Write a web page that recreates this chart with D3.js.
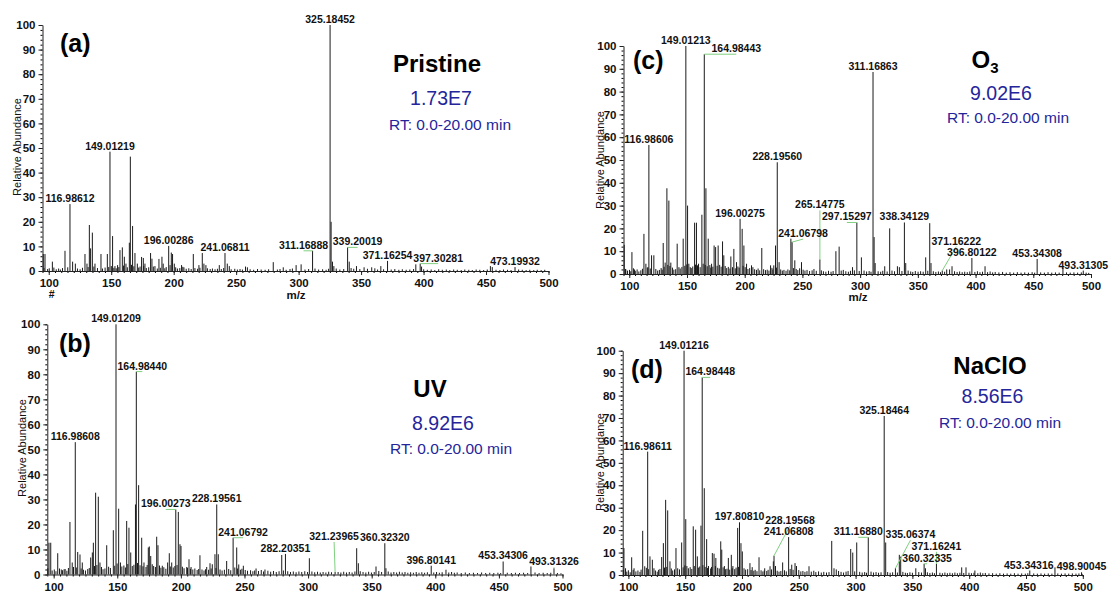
<!DOCTYPE html>
<html>
<head>
<meta charset="utf-8">
<script src="https://cdn.jsdelivr.net/npm/d3@7"></script>
<style>
  body { margin: 0; background: #fff; }
  svg { display: block; font-family: "Liberation Sans", Arial, sans-serif; }
</style>
</head>
<body>
<svg id="chart" width="1111" height="598"></svg>
<script>
// ---- shared axis definitions ----
const mzRange = [95, 500];
const xTicks = [100, 150, 200, 250, 300, 350, 400, 450, 500];
const yTicks = [0, 10, 20, 30, 40, 50, 60, 70, 80, 90, 100];
const rtText = "RT: 0.0-20.00 min";

// ---- (a) Pristine ----
const pristineLabeled = [[116.98612,27.2],[149.01219,48.5],[196.00286,10.2],[241.06811,7.3],[311.16888,8.2],
  [325.18452,100],[339.20019,9.6],[371.16254,4.1],[397.30281,3.0],[473.19932,1.6]];
const pristinePeaks = [[95.6,6.9],[97.0,6.9],[102.9,3.8],[113.0,8.2],[119.1,3.8],[121.3,3.0],[129.0,6.9],[130.6,3.0],
  [132.5,18.7],[133.5,9.2],[134.9,15.6],[137.0,3.0],[141.8,6.9],[146.9,6.9],[151.1,14.2],[153.0,2.0],[155.1,2.4],
  [157.0,8.5],[158.9,9.6],[160.5,5.8],[161.8,3.0],[164.5,11.5],[165.3,46.5],[167.1,18.3],[169.0,7.3],[170.9,3.0],
  [174.3,5.7],[175.7,5.3],[177.0,3.0],[181.5,7.3],[182.6,5.0],[185.0,2.0],[188.2,4.9],[190.6,5.8],[191.6,3.0],
  [198.1,7.5],[199.1,6.9],[200.5,3.0],[206.3,2.4],[208.2,1.5],[215.7,6.9],[220.2,2.4],[222.9,7.3],[224.2,3.0],
  [225.8,2.4],[236.5,2.4],[242.9,3.0],[244.5,2.0],[257.5,1.8],[259.0,1.5],[279.7,3.6],[287.7,1.5],[298.0,2.4],
  [302.0,2.7],[326.0,20.0],[327.1,3.8],[328.2,2.0],[340.5,3.8],[346.3,2.0],[352.4,1.5],[358.5,1.5],[365.8,2.0],
  [393.8,2.7],[398.4,1.8],[453.5,2.0],[455.0,1.6]];
const pristineNoise = [[96.2,1.2],[99.1,0.8],[100.4,1.1],[104.1,1.4],[106.0,0.7],[107.9,1.0],[109.3,0.6],[111.0,1.2],
  [115.2,1.5],[123.0,1.0],[125.1,0.7],[127.0,1.3],[131.5,1.6],[136.1,1.8],[139.0,1.2],[143.0,1.0],[145.1,1.4],
  [148.0,1.6],[150.1,2.0],[152.1,1.3],[154.0,1.1],[156.1,1.6],[159.9,2.2],[162.9,1.5],[166.2,2.5],[168.1,1.9],
  [172.0,1.4],[173.1,1.8],[176.0,2.0],[178.1,1.2],[180.0,1.5],[183.7,1.8],[186.9,1.0],[189.3,1.3],[192.9,1.1],
  [194.0,1.6],[197.1,2.4],[201.6,1.5],[203.0,1.0],[204.9,1.2],[207.3,1.7],[210.0,0.9],[212.1,1.1],[214.0,0.8],
  [217.0,1.2],[219.1,0.9],[221.0,1.3],[227.0,1.1],[229.2,0.8],[231.0,1.0],[233.1,0.7],[235.0,0.9],[238.1,0.8],
  [240.0,1.2],[246.0,0.7],[248.9,0.9],[251.0,0.6],[253.1,0.8],[255.0,0.6],[261.2,0.7],[264.0,0.5],[267.1,0.8],
  [270.0,0.6],[273.2,0.5],[276.0,0.7],[283.0,0.6],[285.1,0.8],[290.0,0.5],[293.1,0.8],[295.0,1.0],[305.1,0.6],
  [308.0,0.8],[313.1,1.0],[316.0,0.6],[319.2,0.7],[322.0,0.5],[324.0,0.9],[330.1,1.0],[333.0,0.6],[336.1,0.8],
  [342.0,1.2],[344.1,0.9],[349.0,0.8],[355.1,0.9],[361.0,1.1],[363.2,0.6],[368.0,0.7],[374.1,0.6],[377.0,0.8],
  [380.2,0.5],[383.0,0.7],[386.1,0.5],[389.0,0.6],[392.0,0.8],[400.1,0.7],[403.0,0.5],[406.1,0.6],[409.0,0.4],
  [412.1,0.7],[415.0,0.5],[418.2,0.6],[421.0,0.4],[424.1,0.6],[427.0,0.5],[430.1,0.4],[433.0,0.6],[436.2,0.5],
  [439.0,0.4],[442.1,0.6],[445.0,0.5],[448.1,0.4],[451.0,0.6],[458.0,0.5],[461.1,0.4],[464.0,0.6],[467.2,0.5],
  [470.0,0.4],[476.1,0.6],[479.0,0.5],[482.1,0.4],[485.0,0.5],[488.2,0.4],[491.0,0.5],[494.1,0.4],[497.0,0.5]];

// ---- (b) UV ----
const uvLabeled = [[116.98608,52.9],[149.01209,100],[164.98440,81.1],[196.00273,26],[228.19561,28],[241.06792,14.7],
  [282.20351,8.2],[321.23965,1.0],[360.32320,12.5],[396.80141,3.5],[453.34306,5.2],[493.31326,2.5]];
const uvPeaks = [[96.3,12.7],[97.7,12.7],[103.2,8.5],[106.0,2.0],[109.0,2.2],[112.8,21],[114.6,4.8],[118.9,9.0],
  [120.7,8.0],[122.5,4.8],[129.1,6.8],[130.4,8.8],[131.2,12.7],[133.0,32.7],[135.1,31.1],[136.4,4.8],[141.7,11.7],
  [146.9,17.7],[151.1,26.3],[152.5,4.8],[157.4,21.4],[159.2,18.7],[160.6,8.8],[164.3,28],[166.8,35.7],[169.2,14.7],
  [171.0,4.8],[174.4,10.8],[175.2,11.2],[176.3,7.4],[181.0,15.1],[182.0,11.7],[185.4,3.5],[189.6,4.8],[190.9,8.5],
  [192.8,4.8],[198.0,25],[199.3,12.1],[200.1,11.4],[204.6,3.0],[206.4,6.1],[208.0,3.0],[215.0,7.7],[220.3,3.0],
  [222.9,4.5],[224.7,4.1],[226.8,8.1],[229.4,8.1],[236.0,5.4],[243.9,10.8],[245.5,4.0],[249.1,3.5],[259.1,2.4],
  [266.1,2.0],[279.3,7.8],[301.0,6.5],[338.2,10.5],[339.5,4.5],[353.4,3.2],[361.2,2.5],[408.4,1.9],[475.2,3.2]];
const uvNoise = [[95.4,2.5],[98.8,1.6],[100.5,2.0],[101.8,1.3],[104.6,2.4],[106.9,1.7],[108.2,2.1],[110.4,1.5],
  [111.6,2.6],[115.6,3.0],[117.8,2.8],[121.6,2.4],[123.4,1.9],[125.0,1.6],[126.8,2.2],[128.0,2.6],[132.1,3.4],
  [134.0,3.8],[137.6,3.0],[138.8,2.1],[140.3,2.4],[143.2,3.1],[144.6,2.6],[148.0,3.5],[149.9,4.4],[153.6,3.2],
  [155.2,3.6],[156.4,2.8],[158.3,4.2],[161.8,3.4],[163.1,3.9],[165.9,4.6],[167.9,3.7],[170.2,3.3],[172.6,3.0],
  [173.5,3.8],[177.5,4.1],[178.6,3.4],[180.0,3.0],[183.2,3.6],[184.3,2.7],[186.6,2.9],[188.2,2.3],[191.7,3.2],
  [194.0,2.8],[195.3,3.4],[197.0,3.8],[201.2,3.1],[202.5,2.5],[205.2,2.7],[207.5,2.3],[209.4,2.0],[211.0,2.4],
  [212.8,1.8],[214.0,2.2],[216.6,2.0],[218.2,1.6],[219.4,2.1],[221.8,1.9],[223.8,2.4],[227.6,2.6],[230.8,2.0],
  [232.4,1.6],[234.2,1.9],[237.6,2.2],[239.2,1.7],[242.4,2.8],[244.6,2.4],[246.8,1.9],[248.0,2.3],[250.6,1.8],
  [252.4,1.5],[254.8,1.7],[256.6,1.3],[258.0,1.6],[261.0,1.4],[263.2,1.8],[265.0,1.2],[268.4,1.5],[270.6,1.1],
  [272.8,1.4],[275.0,1.0],[277.2,1.3],[280.6,1.6],[284.0,1.3],[286.2,1.0],[288.4,1.2],[290.6,0.9],[292.8,1.2],
  [295.0,1.0],[297.4,1.3],[299.6,1.0],[303.0,1.2],[305.2,0.9],[307.4,1.1],[309.6,0.8],[311.8,1.0],[314.0,0.8],
  [316.2,1.1],[318.4,0.9],[323.6,1.0],[325.8,0.8],[328.0,1.1],[330.2,0.8],[332.4,1.0],[334.6,0.8],[336.8,1.2],
  [341.0,1.3],[343.2,1.0],[345.4,0.8],[347.6,1.1],[349.8,0.8],[352.0,1.0],[355.6,1.4],[357.8,1.0],[363.0,1.2],
  [365.2,0.8],[367.4,1.0],[369.6,0.8],[371.8,1.1],[374.0,0.8],[376.2,1.0],[378.4,0.7],[380.6,0.9],[382.8,0.7],
  [385.0,1.0],[387.2,0.7],[389.4,0.9],[391.6,0.7],[393.8,0.9],[398.8,0.8],[401.0,1.0],[403.2,0.7],[405.4,0.9],
  [410.6,0.8],[412.8,1.0],[415.0,0.7],[417.2,0.8],[420.4,0.6],[423.6,0.8],[426.8,0.6],[430.0,0.7],[433.2,0.6],
  [436.4,0.8],[439.6,0.6],[442.8,0.7],[446.0,0.6],[449.2,0.7],[451.4,0.6],[456.6,0.7],[459.8,0.6],[463.0,0.7],
  [466.2,0.6],[469.4,0.7],[472.6,0.6],[478.4,0.8],[481.6,0.6],[484.8,0.7],[488.0,0.6],[490.8,0.7],[496.0,0.6],[498.8,0.5]];

// ---- (c) O3 ----
const ozoneLabeled = [[116.98606,56.6],[149.01213,100],[164.98443,96.4],[196.00275,24.2],[228.19560,49],
  [241.06798,14],[265.14775,6.4],[297.15297,22.6],[311.16863,88.6],[338.34129,22.6],[371.16222,1.5],
  [396.80122,7.0],[453.34308,6.6],[493.31305,1.5]];
const ozonePeaks = [[95.6,12.8],[97.0,2.0],[102.3,9.6],[104.5,2.0],[112.7,17.6],[114.4,4.5],[119.3,8.2],[121.3,8.2],
  [129.4,13.6],[131.1,5.0],[132.6,37.6],[134.3,32.2],[136.0,5.0],[141.5,13.3],[146.7,15.5],[150.5,30],[151.6,4.5],
  [156.6,22.5],[158.2,22.5],[160.0,4.5],[162.9,26],[166.4,37.6],[168.4,15.5],[171.3,4.5],[173.5,12.5],[174.8,11.8],
  [177.0,12.5],[180.8,14.3],[181.9,8.2],[188.0,7.7],[190.6,11],[192.9,5.2],[197.8,19.8],[199.3,12.5],[201.6,4.5],
  [205.9,3.8],[214.8,11.4],[222.4,3.8],[225.2,3.8],[226.7,12.5],[229.8,5.2],[240.0,15.5],[243.4,6.0],[249.2,5.2],
  [279.0,10],[281.8,12],[293.4,3.0],[301.1,7.3],[312.1,16.2],[313.0,4.8],[321.3,3.4],[325.6,20],[332.3,3.4],
  [334.0,3.0],[339.5,4.8],[356.8,7.3],[360.3,22.3],[361.4,4.8],[375.0,2.0],[377.5,2.0],[379.6,3.4],[408.2,3.4],[475.7,2.6]];
const ozoneNoise = [[96.8,2.2],[98.5,1.5],[100.2,1.8],[101.3,1.2],[103.6,2.5],[105.2,1.4],[106.8,2.0],[108.3,1.1],
  [110.0,1.6],[111.4,2.3],[115.6,2.8],[116.2,3.0],[118.2,2.4],[123.0,2.2],[124.6,1.5],[126.1,1.8],[127.6,2.6],
  [128.5,1.9],[130.2,3.2],[133.4,4.0],[135.2,3.5],[137.4,2.8],[138.6,1.9],[140.2,2.1],[143.0,3.0],[144.1,2.4],
  [145.6,3.1],[148.1,3.6],[149.8,4.2],[152.8,3.0],[153.7,2.6],[155.0,3.3],[157.4,4.1],[159.1,3.8],[161.4,3.0],
  [164.0,4.5],[165.8,4.0],[167.5,3.4],[169.8,3.9],[170.6,2.8],[172.4,3.2],[176.1,3.6],[178.3,4.0],[179.6,3.2],
  [183.1,3.5],[184.4,2.6],[185.8,3.1],[187.2,2.4],[189.4,3.0],[191.8,2.5],[194.1,3.3],[195.2,2.8],[198.6,3.6],
  [200.4,3.0],[202.8,2.2],[204.3,2.6],[207.1,3.0],[208.6,2.1],[210.2,1.8],[211.6,2.4],[213.0,1.6],[216.4,2.1],
  [218.0,1.7],[219.5,1.9],[221.0,1.5],[223.6,2.7],[224.4,2.0],[227.5,2.8],[231.2,2.0],[232.6,1.5],[234.0,1.8],
  [235.8,1.4],[237.4,2.0],[239.0,1.6],[242.2,2.6],[244.6,2.2],[246.0,1.7],[247.6,2.5],[250.6,1.9],[252.2,1.5],
  [254.0,1.8],[256.2,1.3],[258.4,1.6],[260.0,2.2],[262.0,1.4],[266.4,1.6],[268.2,1.2],[270.3,1.0],[272.6,1.4],
  [274.8,1.0],[276.6,1.3],[283.6,1.5],[285.4,1.8],[287.6,1.2],[289.8,1.0],[291.6,1.4],[295.0,1.6],[299.2,1.3],
  [303.4,1.5],[305.6,1.1],[307.8,1.3],[309.4,1.0],[315.6,1.2],[317.8,1.0],[319.6,1.4],[323.4,1.1],[327.6,1.5],
  [329.8,1.2],[336.2,1.3],[341.6,1.5],[343.8,1.1],[345.6,0.9],[347.8,1.3],[350.2,1.0],[352.4,1.2],[354.6,1.0],
  [358.6,1.4],[363.4,1.2],[365.6,0.9],[367.8,1.1],[369.6,0.8],[373.2,1.0],[381.8,1.2],[384.0,0.9],[386.2,1.1],
  [388.4,0.8],[390.6,1.0],[392.8,0.8],[395.0,1.1],[399.4,0.9],[401.6,1.2],[403.8,0.8],[406.0,1.0],[410.4,0.8],
  [412.6,1.1],[414.8,0.7],[417.0,0.9],[420.2,0.7],[423.4,0.9],[426.6,0.6],[429.8,0.8],[433.0,0.6],[436.2,0.8],
  [439.4,0.6],[442.6,0.7],[445.8,0.6],[449.0,0.8],[451.2,0.6],[456.4,0.7],[459.6,0.6],[462.8,0.8],[466.0,0.6],
  [469.2,0.7],[472.4,0.6],[478.8,0.7],[482.0,0.6],[485.2,0.7],[488.4,0.6],[491.6,0.7],[495.8,0.6],[498.0,0.5]];

// ---- (d) NaClO ----
const nacloLabeled = [[116.98611,55],[149.01216,100],[164.98448,88.1],[197.80810,23.5],[228.19568,8.6],
  [241.06808,16.9],[311.16880,16.8],[325.18464,70.9],[335.06374,3.0],[360.32335,5.0],[371.16241,5.0],
  [453.34316,2.0],[498.90045,1.2]];
const nacloPeaks = [[96.1,12],[97.5,3.0],[102.9,7.9],[105.0,3.0],[112.6,19.7],[114.4,3.9],[119.0,8.3],[121.1,6.8],
  [122.5,3.0],[129.3,8.0],[130.8,14.2],[132.8,33.5],[134.6,28.8],[136.6,6.1],[141.9,12],[146.9,14.5],[150.5,24.9],
  [151.5,4.0],[157.1,21.7],[159.2,20.2],[160.7,8.3],[163.9,22],[166.8,38.7],[168.9,16],[170.5,4.0],[173.9,9.8],
  [175.4,9.5],[177.0,7.6],[181.3,15],[182.2,11.3],[184.5,4.0],[188.0,7.6],[190.6,9.0],[192.0,4.0],[196.2,21],
  [199.1,14.2],[200.3,10.5],[207.0,5.3],[209.0,3.5],[215.0,7.9],[220.0,3.0],[224.7,3.9],[227.6,6.1],[229.5,4.0],
  [235.8,5.6],[243.8,4.6],[246.7,5.3],[248.0,4.0],[259.0,3.9],[279.0,15.2],[281.0,3.0],[283.0,2.5],[295.7,11.6],
  [297.5,10],[301.0,14.5],[326.5,14.5],[338.5,9.0],[339.7,8.2],[353.0,3.0],[361.5,3.0],[393.4,3.4],[397.2,3.4],
  [405.0,2.0],[475.5,3.4]];
const nacloNoise = [[95.6,2.2],[98.6,1.5],[100.0,2.1],[101.6,1.2],[104.2,2.3],[106.6,1.6],[108.4,2.0],[110.2,1.4],
  [111.2,2.4],[115.8,3.2],[117.6,2.6],[123.8,2.0],[125.4,1.5],[126.6,2.3],[127.8,2.7],[131.8,3.3],[133.8,3.6],
  [137.8,2.9],[139.0,2.0],[140.6,2.5],[143.4,3.0],[145.0,2.5],[148.2,3.4],[149.7,4.3],[152.8,3.0],[154.4,3.5],
  [155.8,2.7],[158.0,4.0],[161.6,3.3],[162.8,3.8],[165.6,4.4],[167.6,3.6],[169.6,3.1],[172.4,2.9],[173.2,3.6],
  [176.6,4.0],[178.6,3.2],[180.0,2.9],[183.4,3.4],[185.6,2.6],[186.8,2.8],[189.2,2.4],[191.4,3.0],[193.6,2.6],
  [194.8,3.3],[197.0,3.6],[201.8,3.0],[203.2,2.4],[205.0,2.6],[208.0,2.2],[210.4,1.9],[211.6,2.3],[213.2,1.7],
  [216.8,2.1],[218.4,1.6],[219.6,2.0],[221.8,1.8],[223.0,2.3],[226.0,2.5],[231.0,1.9],[232.6,1.5],[234.2,1.8],
  [237.4,2.1],[239.0,1.6],[242.4,2.7],[245.0,2.3],[250.0,2.2],[251.8,1.6],[253.6,1.8],[255.4,1.4],[257.2,1.7],
  [261.0,1.5],[263.2,1.9],[265.0,1.3],[267.4,1.6],[269.8,1.1],[272.0,1.4],[274.4,1.1],[276.6,1.3],[285.0,1.8],
  [287.2,1.4],[289.4,1.1],[291.6,1.5],[293.4,1.8],[299.2,1.6],[303.6,1.4],[305.8,1.1],[308.0,1.3],[309.6,1.0],
  [313.6,1.5],[315.8,1.1],[318.0,1.3],[320.2,1.0],[322.4,1.2],[328.2,1.3],[330.4,1.0],[332.6,1.2],[336.8,1.1],
  [341.6,1.4],[343.8,1.0],[345.6,0.9],[347.8,1.2],[350.0,1.0],[355.6,1.3],[358.0,1.1],[363.2,1.2],[365.4,0.9],
  [367.6,1.1],[369.4,0.8],[374.2,1.0],[376.4,0.8],[378.6,1.1],[380.8,0.8],[383.0,1.0],[385.2,0.8],[387.4,1.1],
  [389.6,0.8],[391.8,1.0],[395.2,0.9],[399.8,1.0],[402.0,0.8],[404.2,1.0],[407.6,0.8],[409.8,1.1],[412.0,0.8],
  [414.2,0.9],[417.4,0.7],[420.6,0.8],[423.8,0.6],[427.0,0.8],[430.2,0.6],[433.4,0.7],[436.6,0.6],[439.8,0.8],
  [443.0,0.6],[446.2,0.7],[449.4,0.6],[451.6,0.8],[456.8,0.7],[460.0,0.6],[463.2,0.7],[466.4,0.6],[469.6,0.7],
  [472.8,0.6],[478.0,0.7],[481.2,0.6],[484.4,0.7],[487.6,0.6],[490.8,0.7],[494.0,0.6],[496.6,0.7],[499.4,0.5]];

// ---- panel texts ----
const panelTags = ["(a)", "(b)", "(c)", "(d)"];
const treatmentNames = [["Pristine"], ["UV"], ["O", "3"], ["NaClO"]];
const totalIntensities = ["1.73E7", "8.92E6", "9.02E6", "8.56E6"];

// ---- layout of the four spectra ----
const panels = [
  { tag: panelTags[0], name: treatmentNames[0], total: totalIntensities[0],
    labeled: pristineLabeled, peaks: pristinePeaks, noise: pristineNoise,
    xr: [42.5, 548.5], yr: [271, 25], tagPos: [60, 52], namePos: [437, 72], totalPos: [441, 105], rtPos: [450, 130],
    yLabel: [16.5, 147], mzPos: [296, 299], extraMark: true },
  { tag: panelTags[1], name: treatmentNames[1], total: totalIntensities[1],
    labeled: uvLabeled, peaks: uvPeaks, noise: uvNoise,
    xr: [47.3, 562.5], yr: [574.5, 324.3], tagPos: [59, 352], namePos: [430, 397], totalPos: [443, 430], rtPos: [451, 454],
    yLabel: [21.5, 448], mzPos: [306, 607] },
  { tag: panelTags[2], name: treatmentNames[2], total: totalIntensities[2],
    labeled: ozoneLabeled, peaks: ozonePeaks, noise: ozoneNoise,
    xr: [623.5, 1091], yr: [274, 46], tagPos: [633, 69], namePos: [985, 68], totalPos: [1001, 100], rtPos: [1008, 123],
    yLabel: [599.5, 160], mzPos: [858, 301] },
  { tag: panelTags[3], name: treatmentNames[3], total: totalIntensities[3],
    labeled: nacloLabeled, peaks: nacloPeaks, noise: nacloNoise,
    xr: [622.7, 1082.8], yr: [575, 350.7], tagPos: [631, 378], namePos: [990, 374], totalPos: [992.5, 403], rtPos: [1000, 428],
    yLabel: [599.5, 462], mzPos: [856, 606] }
];

const svg = d3.select("#chart");
const blue = "#25259b";
const leaderGreen = "#7fd07f";

// label placement candidates: small horizontal nudges first, then lifts
const candidates = [];
for (let dy = 0; dy <= 80; dy += 1)
  for (let dx = -45; dx <= 45; dx += 1) candidates.push([dx, dy, Math.abs(dx) + 2 * dy]);
candidates.sort((a, b) => a[2] - b[2]);

// boxes touching by less than this many pixels are not treated as colliding
const touchTolerance = 0.6;

function drawPanel(p) {
  const g = svg.append("g");
  const x = d3.scaleLinear().domain(mzRange).range(p.xr);
  const y = d3.scaleLinear().domain([0, 100]).range(p.yr);

  // minor ticks
  g.append("g").attr("transform", `translate(0,${p.yr[0]})`)
    .call(d3.axisBottom(x).tickValues(d3.range(95, 501, 5)).tickSize(2).tickSizeOuter(0).tickFormat(""))
    .call(a => a.select(".domain").remove());
  g.append("g").attr("transform", `translate(${p.xr[0]},0)`)
    .call(d3.axisLeft(y).tickValues(d3.range(0, 101, 2)).tickSize(2).tickSizeOuter(0).tickFormat(""))
    .call(a => a.select(".domain").remove());

  // major axes
  const xa = g.append("g").attr("transform", `translate(0,${p.yr[0]})`)
    .call(d3.axisBottom(x).tickValues(xTicks).tickSize(4).tickSizeOuter(0).tickPadding(4).tickFormat(d3.format("d")));
  const ya = g.append("g").attr("transform", `translate(${p.xr[0]},0)`)
    .call(d3.axisLeft(y).tickValues(yTicks).tickSize(4).tickSizeOuter(0).tickPadding(3).tickFormat(d3.format("d")));
  [xa, ya].forEach(a => {
    a.selectAll("text").attr("font-size", 11.5).attr("font-weight", "bold").attr("fill", "#111")
      .attr("font-family", "Liberation Sans, Arial, sans-serif");
    a.selectAll("line, path").attr("stroke", "#222");
  });

  // spectrum sticks
  const allPeaks = p.noise.concat(p.peaks, p.labeled);
  g.append("g").selectAll("line").data(allPeaks).join("line")
    .attr("x1", d => x(d[0])).attr("x2", d => x(d[0]))
    .attr("y1", y(0)).attr("y2", d => y(d[1]))
    .attr("stroke", "#1a1a1a").attr("stroke-width", 1);

  // peak labels with simple collision avoidance
  const obstacles = p.peaks.concat(p.labeled).filter(d => d[1] >= 3)
    .map(d => ({ mz: d[0], px: x(d[0]), top: y(d[1]) }));
  const placed = [];
  const lg = g.append("g");
  const order = p.labeled.slice().sort((a, b) => b[1] - a[1]);
  order.forEach(([mz, v]) => {
    const px = x(mz), py = y(v);
    const t = lg.append("text").text(mz.toFixed(5))
      .attr("font-size", 10.5).attr("font-weight", "bold").attr("fill", "#111")
      .attr("text-anchor", "middle");
    const w = t.node().getComputedTextLength();
    let best = null;
    for (const [dx, dy] of candidates) {
      const cx = px + dx, base = py - 2 - dy;
      const box = { l: cx - w / 2 - 0.5, r: cx + w / 2 + 0.5, t: base - 9.6, b: base + 2.3 };
      if (box.l < p.xr[0] - 2 || box.r > Math.min(p.xr[1] + 30, 1110) || box.t < 1) continue;
      let ok = true;
      for (const o of obstacles) {
        if (o.mz === mz) continue;
        if (o.px >= box.l - 0.5 && o.px <= box.r + 0.5 && o.top < base + 1) { ok = false; break; }
      }
      if (ok) for (const q of placed) {
        const ox = Math.min(box.r, q.r) - Math.max(box.l, q.l);
        const oy = Math.min(box.b, q.b) - Math.max(box.t, q.t);
        if (ox > touchTolerance && oy > touchTolerance) { ok = false; break; }
      }
      if (ok) { best = { cx, base, box, dx, dy }; break; }
    }
    if (!best) best = { cx: px, base: py - 2, box: { l: px - w / 2, r: px + w / 2, t: py - 11.6, b: py }, dx: 0, dy: 0 };
    placed.push(best.box);
    t.attr("x", best.cx).attr("y", best.base);
    if (best.dx !== 0 || best.dy !== 0) {
      lg.insert("line", ":first-child")
        .attr("x1", best.cx).attr("y1", best.base + 2)
        .attr("x2", px).attr("y2", py)
        .attr("stroke", leaderGreen).attr("stroke-width", 1);
    }
  });

  // axis titles
  g.append("text").attr("transform", `translate(${p.yLabel[0]},${p.yLabel[1]}) rotate(-90)`)
    .attr("text-anchor", "middle").attr("dominant-baseline", "central")
    .attr("font-size", 11).attr("fill", "#111").text("Relative Abundance");
  g.append("text").attr("x", p.mzPos[0]).attr("y", p.mzPos[1]).attr("text-anchor", "middle")
    .attr("font-size", 11.5).attr("font-weight", "bold").attr("fill", "#111").text("m/z");
  if (p.extraMark) {
    g.append("text").attr("x", x(100) + 3).attr("y", 298).attr("text-anchor", "middle")
      .attr("font-size", 10.5).attr("font-weight", "bold").attr("fill", "#111").text("#");
  }

  // panel tag and treatment annotations
  g.append("text").attr("x", p.tagPos[0]).attr("y", p.tagPos[1])
    .attr("font-size", 25).attr("font-weight", "bold").attr("fill", "#000").text(p.tag);
  const nt = g.append("text").attr("x", p.namePos[0]).attr("y", p.namePos[1]).attr("text-anchor", "middle")
    .attr("font-size", 24).attr("font-weight", "bold").attr("fill", "#000");
  nt.append("tspan").text(p.name[0]);
  if (p.name.length > 1) nt.append("tspan").attr("dy", 5).attr("font-size", 15).text(p.name[1]);
  g.append("text").attr("x", p.totalPos[0]).attr("y", p.totalPos[1]).attr("text-anchor", "middle")
    .attr("font-size", 19.5).attr("fill", blue).text(p.total);
  g.append("text").attr("x", p.rtPos[0]).attr("y", p.rtPos[1]).attr("text-anchor", "middle")
    .attr("font-size", 15.5).attr("fill", blue).text(rtText);
}

panels.forEach(drawPanel);
</script>
</body>
</html>
